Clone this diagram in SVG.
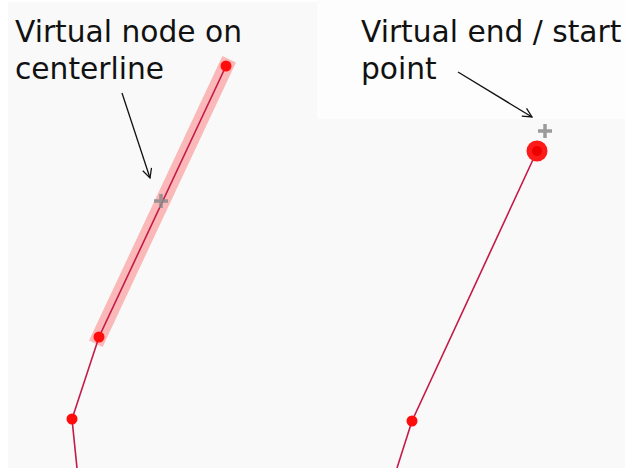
<svg xmlns="http://www.w3.org/2000/svg" width="625" height="468" viewBox="0 0 625 468">
<defs>
<style>
.lbl{font-family:"DejaVu Sans",sans-serif;font-size:29.7px;fill:#111}
.way{fill:none;stroke:#c41a48;stroke-width:1.6}
.node{fill:#ff0d0d}
.virt{stroke:#8a8a8a;stroke-width:3.5;fill:none;opacity:0.85}
.arrow{stroke:#111;stroke-width:1.3;fill:none}
</style>
<marker id="ah" viewBox="0 0 12 12" refX="11" refY="6" markerWidth="11" markerHeight="11" markerUnits="userSpaceOnUse" orient="auto">
<path d="M1,1 L11,6 L1,11" fill="none" stroke="#111" stroke-width="1.4"/>
</marker>
</defs>
<rect x="0" y="0" width="625" height="468" fill="#ffffff"/>
<rect x="8" y="2" width="617" height="466" fill="#f9f9f9"/>
<rect x="317" y="0" width="308" height="119" fill="#fdfdfd"/>
<g id="connectors">
<line x1="226" y1="66" x2="99" y2="337" stroke="#ff2020" stroke-opacity="0.3" stroke-width="15" stroke-linecap="square"/>
<polyline class="way" points="226,66 99,337 72,419 77,468"/>
<polyline class="way" points="537,151 412,421 397,468"/>
<line class="arrow" x1="122" y1="93" x2="150" y2="178" marker-end="url(#ah)"/>
<line class="arrow" x1="458" y1="72" x2="532" y2="117" marker-end="url(#ah)"/>
</g>
<g id="node-top-left"><circle class="node" cx="226" cy="66" r="5.5"/></g>
<g id="node-mid-left"><circle class="node" cx="99" cy="337" r="5.5"/></g>
<g id="node-low-left"><circle class="node" cx="72" cy="419" r="5.5"/></g>
<g id="node-virtual-left"><path class="virt" d="M154,201 H168 M161,194 V208"/></g>
<g id="node-end-right"><circle cx="537" cy="151" r="10.5" fill="#ff1a1a"/><circle cx="537" cy="151" r="5" fill="#ee0000"/></g>
<g id="node-low-right"><circle class="node" cx="412" cy="421" r="5.5"/></g>
<g id="node-virtual-right"><path class="virt" d="M538,131 H552 M545,124 V138"/></g>
<g id="label-left">
<text class="lbl" x="15" y="42">Virtual node on</text>
<text class="lbl" x="15" y="79">centerline</text>
</g>
<g id="label-right">
<text class="lbl" x="361" y="42">Virtual end / start</text>
<text class="lbl" x="361" y="79">point</text>
</g>
</svg>
